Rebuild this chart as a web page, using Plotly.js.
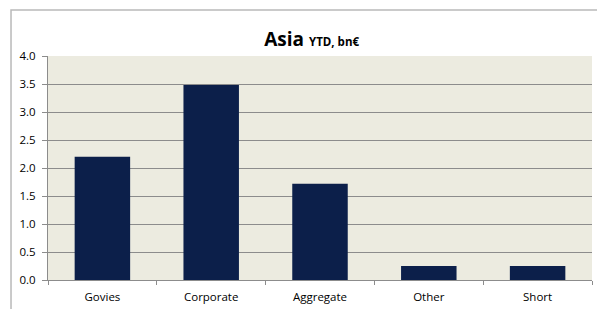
<!DOCTYPE html>
<html>
<head>
<meta charset="utf-8">
<script src="https://cdn.plot.ly/plotly-3.0.1.min.js"></script>
<style>
html,body{margin:0;padding:0;background:#fff;}
#chart{width:597px;height:309px;}
</style>
</head>
<body>
<div id="chart"></div>
<script>
const categories = ["Govies", "Corporate", "Aggregate", "Other", "Short"];
const values = [2.20, 3.48, 1.72, 0.25, 0.25];
const yTicks = [0, 0.5, 1, 1.5, 2, 2.5, 3, 3.5, 4];
const yTickLabels = ["0.0", "0.5", "1.0", "1.5", "2.0", "2.5", "3.0", "3.5", "4.0"];

const font = "Open Sans, Liberation Sans, sans-serif";

const trace = {
  type: "bar",
  x: categories,
  y: values,
  marker: {color: "#0c1f4a", line: {width: 0}},
  hoverinfo: "none"
};

const layout = {
  width: 597,
  height: 309,
  margin: {l: 48, r: 5, t: 56, b: 29, pad: 0},
  paper_bgcolor: "#ffffff",
  plot_bgcolor: "#ecebe0",
  bargap: 0.49,
  showlegend: false,
  font: {family: font, size: 11.5, color: "#000"},
  title: {
    text: "<b>Asia</b> <b><span style='font-size:11.5px'>YTD, bn€</span></b>",
    font: {family: font, size: 19, color: "#000"},
    x: 0.522, xref: "container", xanchor: "center",
    y: 0.872, yref: "container", yanchor: "middle"
  },
  xaxis: {
    type: "category",
    tickson: "boundaries",
    ticks: "outside",
    ticklen: 4,
    tickcolor: "#8c8c8c",
    showline: true,
    linecolor: "#8c8c8c",
    linewidth: 1,
    showgrid: false,
    ticklabelstandoff: 6,
    tickfont: {family: font, size: 11.5, color: "#000"},
    fixedrange: true
  },
  yaxis: {
    range: [0, 4],
    tickvals: yTicks,
    ticktext: yTickLabels,
    ticks: "outside",
    ticklen: 5,
    tickcolor: "#8c8c8c",
    showline: true,
    linecolor: "#8c8c8c",
    linewidth: 1,
    showgrid: true,
    gridcolor: "#8c8c8c",
    gridwidth: 1,
    zeroline: false,
    ticklabelstandoff: 4,
    tickfont: {family: font, size: 11.5, color: "#000"},
    fixedrange: true
  },
  shapes: [
    {
      type: "path",
      xref: "paper", yref: "paper",
      path: "M -0.068 -0.3 L -0.068 1.2054 L 1.2 1.2054",
      line: {color: "#b9b9b9", width: 1.5}
    }
  ]
};

Plotly.newPlot("chart", [trace], layout, {displayModeBar: false, staticPlot: true});
</script>
</body>
</html>
